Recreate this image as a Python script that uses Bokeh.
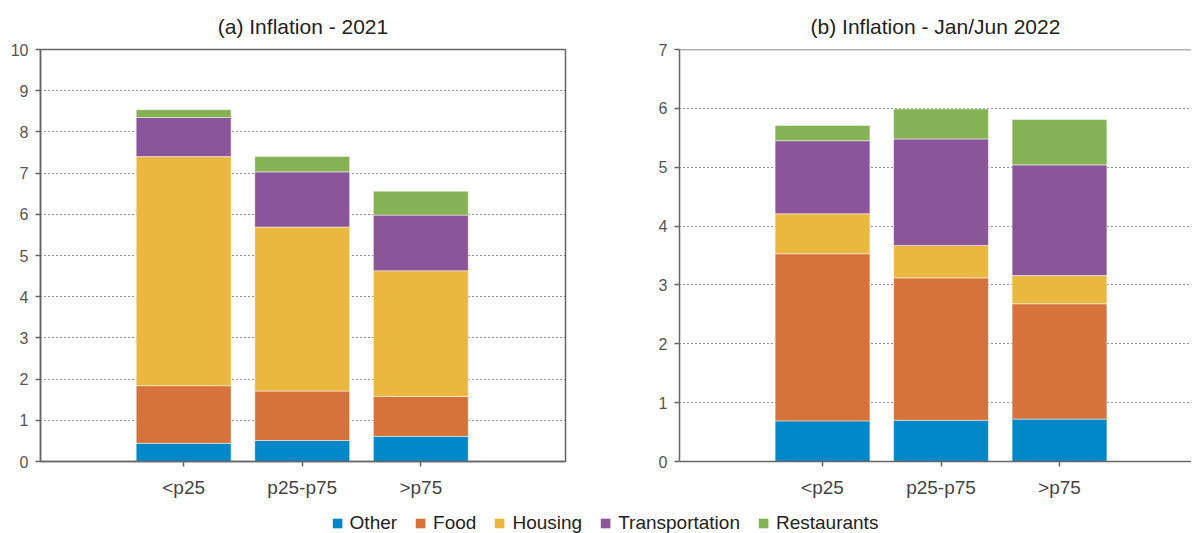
from bokeh.plotting import figure
from bokeh.models import FixedTicker, Span, Legend, LegendItem, ColumnDataSource
from bokeh.layouts import column, row
from bokeh.embed import file_html
from bokeh.resources import INLINE

# ---- data ----
categories = ["<p25", "p25-p75", ">p75"]
components = ["Other", "Food", "Housing", "Transportation", "Restaurants"]
colors = ["#0088C9", "#D6733B", "#EBB83F", "#8A5599", "#85B254"]

other_2021 = [0.44, 0.51, 0.61]
food_2021 = [1.40, 1.20, 0.97]
housing_2021 = [5.56, 3.98, 3.05]
transport_2021 = [0.95, 1.34, 1.35]
restaurants_2021 = [0.19, 0.37, 0.58]

other_2022 = [0.69, 0.70, 0.72]
food_2022 = [2.84, 2.42, 1.96]
housing_2022 = [0.68, 0.55, 0.48]
transport_2022 = [1.24, 1.81, 1.88]
restaurants_2022 = [0.26, 0.51, 0.77]

y_ticks_2021 = [0, 1, 2, 3, 4, 5, 6, 7, 8, 9, 10]
y_ticks_2022 = [0, 1, 2, 3, 4, 5, 6, 7]

FONT = "Liberation Sans"
AXIS_COLOR = "#666666"


def make_panel(title, series, yticks, width, b_left, b_right, x_start, x_end, outline):
    xs = [i + 1 for i in range(len(categories))]
    data = {"x": xs}
    for name, vals in zip(components, series):
        data[name] = vals
    src = ColumnDataSource(data)
    p = figure(width=width, height=500, x_range=(x_start, x_end),
               y_range=(0, yticks[-1]), output_backend="svg",
               toolbar_location=None, title=title,
               min_border_left=b_left, min_border_right=b_right,
               min_border_top=49, min_border_bottom=39)
    p.vbar_stack(components, x="x", width=0.8, source=src,
                 fill_color=colors, line_color="white", line_width=0.6,
                 line_alpha=0.8)
    p.title.align = "center"
    p.title.text_font = FONT
    p.title.text_font_size = "21px"
    p.title.text_font_style = "normal"
    p.title.text_color = "#222222"
    p.title.standoff = 24

    p.xgrid.visible = False
    p.ygrid.ticker = FixedTicker(ticks=yticks)
    p.ygrid.grid_line_dash = "1 3"
    p.ygrid.grid_line_color = "#222222"
    p.ygrid.grid_line_width = 1.2

    p.yaxis.ticker = FixedTicker(ticks=yticks)
    p.xaxis.ticker = FixedTicker(ticks=xs)
    p.xaxis.major_label_overrides = {x: c for x, c in zip(xs, categories)}
    for ax in (p.xaxis, p.yaxis):
        ax.axis_line_color = AXIS_COLOR
        ax.axis_line_width = 1.5
        ax.major_tick_line_color = AXIS_COLOR
        ax.major_tick_line_width = 1.5
        ax.major_tick_out = 5
        ax.major_tick_in = 0
        ax.minor_tick_line_color = None
        ax.major_label_text_font = FONT
    p.yaxis.major_label_text_font_size = "16px"
    p.yaxis.major_label_text_color = "#555555"
    p.yaxis.major_label_standoff = 7
    p.xaxis.major_label_text_font_size = "19px"
    p.xaxis.major_label_text_color = "#444444"
    p.xaxis.major_label_standoff = 10

    if outline:
        p.outline_line_color = AXIS_COLOR
        p.outline_line_width = 1.5
        p.outline_line_alpha = 1
    else:
        p.outline_line_color = None
        p.add_layout(Span(location=yticks[-1], dimension="width",
                          line_color=AXIS_COLOR, line_width=1.5))
    return p


p1 = make_panel("(a) Inflation - 2021",
                [other_2021, food_2021, housing_2021, transport_2021, restaurants_2021],
                y_ticks_2021, 600, 40, 35, -0.207, 4.22, True)
p2 = make_panel("(b) Inflation - Jan/Jun 2022",
                [other_2022, food_2022, housing_2022, transport_2022, restaurants_2022],
                y_ticks_2022, 591, 79, 0, -0.207, 4.114, False)

# ---- legend strip ----
p3 = figure(width=1191, height=33, toolbar_location=None, output_backend="svg",
            x_range=(0, 1), y_range=(0, 1), min_border=0, min_border_left=18,
            min_border_top=12)
p3.axis.visible = False
p3.grid.visible = False
p3.outline_line_color = None
items = []
for name, c in zip(components, colors):
    # legend-only renderer, kept outside the visible range
    r = p3.vbar(x=[5], top=[5], bottom=[4], width=0.1, fill_color=c, line_color=None)
    items.append(LegendItem(label=name, renderers=[r]))
leg = Legend(items=items, orientation="horizontal", location="center",
             border_line_color=None, background_fill_alpha=0,
             label_text_font=FONT, label_text_font_size="19px",
             label_text_color="#222222", label_height=20,
             glyph_width=12, glyph_height=12, label_standoff=7,
             spacing=17, padding=0, margin=0)
p3.add_layout(leg, "center")

layout = column(row(p1, p2), p3)
open("out.html", "w").write(file_html(layout, INLINE))
